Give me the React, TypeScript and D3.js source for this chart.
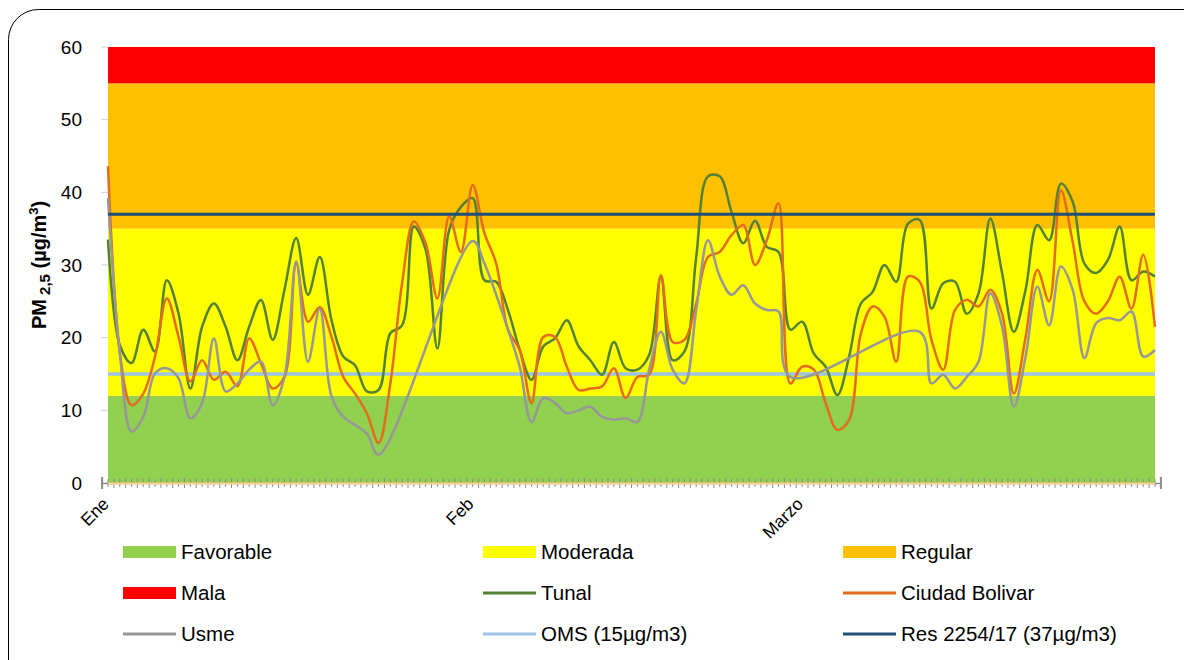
import * as d3 from 'd3';

const width = 1184;
const height = 660;

// days Jan 1 .. Mar 31
const monthLabels = ['Ene', 'Feb', 'Marzo'];
const monthStarts = [0, 31, 59];
const yTicks = [0, 10, 20, 30, 40, 50, 60];

const tunal = [
  33.5, 19, 16.5, 21.1, 18.1, 27.9, 23.3, 13.0, 21.5, 24.7,
  21.5, 16.9, 21.5, 25.2, 19.7, 26.6, 33.7, 25.9, 31.1, 22.4,
  17.4, 16.2, 12.6, 12.8, 20.6, 21.7, 35.3, 32.1, 18.5, 34.8,
  38.0, 39.2, 27.9, 27.7, 23.8, 18.3, 14.2, 18.8, 19.9, 22.4,
  18.8, 16.9, 14.9, 19.4, 15.8, 15.6, 17.6, 28.4, 16.9, 18.1,
  31.1, 42.2, 42.2, 37.3, 33.0, 36.1, 32.5, 31.8, 21.1, 22.2,
  17.8, 16.0, 12.1, 17.4, 24.7, 26.3, 30.0, 27.7, 35.7, 36.2,
  24.0, 27.5, 27.7, 23.3, 26.1, 36.4, 28.9, 20.8, 26.6, 35.5,
  33.4, 41.2, 38.7, 30.2, 28.9, 30.7, 35.3, 27.9, 29.1, 28.4,
];

const ciudadBolivar = [
  43.6, 18, 10.7, 12.3, 17.4, 25.4, 20.1, 14.0, 16.9, 14.2,
  15.3, 13.3, 19.9, 16.5, 13.0, 14.6, 30.2, 22.2, 24.2, 20.1,
  14.6, 12.3, 9.6, 5.5, 13.7, 27.5, 36.0, 33.0, 25.4, 36.7,
  31.8, 41.0, 34.4, 30.2, 21.1, 18.3, 11.0, 20.1, 20.1, 16.0,
  12.8, 13.0, 13.3, 15.8, 11.7, 14.6, 14.9, 28.6, 19.4, 19.7,
  24.7, 31.1, 31.8, 34.1, 35.5, 30.0, 33.4, 38.5, 13.7, 16.0,
  15.6, 11.0, 7.3, 8.7, 20.6, 24.3, 22.9, 16.7, 28.4, 27.7,
  19.7, 15.6, 23.8, 25.2, 24.3, 26.6, 23.3, 12.3, 20.1, 29.3,
  25.0, 40.3, 33.2, 25.0, 23.3, 25.0, 28.4, 24.0, 31.4, 21.5,
];

const usme: (number | null)[] = [
  39.2, 18, 7.1, 9.1, 15.1, 15.8, 14.4, 8.9, 11.0, 19.9,
  12.6, 13.7, 15.6, 16.7, 10.7, 14.6, 30.5, 16.7, 24.0, 11.9,
  9.1, 8.0, 6.8, 3.9, null, null, null, null, null, null,
  null, 33.3, 30.2, 25.9, 21.1, 16.0, 8.4, 11.7, 11.0, 9.6,
  10.0, 10.5, 9.1, 8.7, 8.9, 8.4, 15.6, 20.8, 15.6, 13.7,
  23.8, 33.4, 28.4, 25.9, 27.2, 24.7, 23.8, 23.6, 14.6, null,
  null, null, null, null, null, null, null, null, null, 20.8,
  13.7, 14.9, 13.0, 14.6, 16.7, 26.1, 21.5, 10.5, 17.4, 27.0,
  21.7, 29.8, 26.6, 17.2, 22.0, 22.7, 22.4, 23.6, 17.4, 18.3,
];

const bandNames = ['Favorable', 'Moderada', 'Regular', 'Mala'];
const bandLimits = [0, 12, 35, 55, 60];
const bandColors = ['#92D050', '#FFFF00', '#FFC000', '#FF0000'];

const omsValue = 15;
const resValue = 37;

const seriesNames = ['Tunal', 'Ciudad Bolivar', 'Usme'];
const seriesColors = ['#548235', '#E46C1E', '#979797'];
const seriesData = [tunal, ciudadBolivar, usme];

const legendItems = [
  { name: bandNames[0], color: bandColors[0], kind: 'box' },
  { name: bandNames[1], color: bandColors[1], kind: 'box' },
  { name: bandNames[2], color: bandColors[2], kind: 'box' },
  { name: bandNames[3], color: bandColors[3], kind: 'box' },
  { name: seriesNames[0], color: seriesColors[0], kind: 'line' },
  { name: seriesNames[1], color: seriesColors[1], kind: 'line' },
  { name: seriesNames[2], color: seriesColors[2], kind: 'line' },
  { name: 'OMS (15µg/m3)', color: '#9DC3E6', kind: 'line' },
  { name: 'Res 2254/17 (37µg/m3)', color: '#1F4E79', kind: 'line' },
];

export default function App() {
  const n = tunal.length;
  const x = d3.scaleLinear([0, n - 1], [108, 1155]);
  const y = d3.scaleLinear([0, 60], [483, 47]);

  const line = d3
    .line<[number, number]>()
    .x((d) => x(d[0]))
    .y((d) => y(d[1]))
    .curve(d3.curveCatmullRom.alpha(0.5));

  // missing days are skipped, the curve just joins the neighbours
  const pts = (arr: (number | null)[]) =>
    arr
      .map((v, i) => [i, v] as [number, number | null])
      .filter((d) => d[1] != null) as [number, number][];

  const halfTicks = d3.range(-0.5, n - 0.5 + 0.01, 0.5);
  const font = 'Liberation Sans, Arial, sans-serif';

  return (
    <svg
      width={width}
      height={height}
      style={{ position: 'absolute', left: 0, top: 0 }}
      fontFamily={font}
    >
      <rect width={width} height={height} fill="white" />
      <rect
        x={8.5}
        y={9.5}
        width={1250}
        height={700}
        rx={30}
        fill="white"
        stroke="#000"
        strokeWidth={1}
      />

      {/* bands */}
      {bandColors.map((c, i) => (
        <rect
          key={i}
          x={x(0)}
          width={x(n - 1) - x(0)}
          y={y(bandLimits[i + 1])}
          height={y(bandLimits[i]) - y(bandLimits[i + 1])}
          fill={c}
        />
      ))}

      {/* y ticks */}
      {yTicks.map((t) => (
        <g key={t}>
          <line x1={101} x2={108} y1={y(t)} y2={y(t)} stroke="#d0d0d0" />
          <text
            x={82}
            y={y(t)}
            dy="0.35em"
            textAnchor="end"
            fontSize={19}
            fill="#000"
          >
            {t}
          </text>
        </g>
      ))}

      {/* x axis */}
      <line
        x1={x(-0.5)}
        x2={x(n - 0.5)}
        y1={y(0) + 0.5}
        y2={y(0) + 0.5}
        stroke="#8c8c8c"
        strokeWidth={1.5}
      />
      {halfTicks.map((t, i) => (
        <line
          key={i}
          x1={x(t)}
          x2={x(t)}
          y1={y(0) - (i % 2 === 0 ? 5 : 4)}
          y2={y(0) + (i % 2 === 0 ? 5 : 4)}
          stroke="#8c8c8c"
          strokeWidth={1}
        />
      ))}
      <line
        x1={x(-0.5)}
        x2={x(-0.5)}
        y1={y(0) - 6}
        y2={y(0) + 6}
        stroke="#8c8c8c"
        strokeWidth={2}
      />
      <line
        x1={x(n - 0.5)}
        x2={x(n - 0.5)}
        y1={y(0) - 6}
        y2={y(0) + 6}
        stroke="#8c8c8c"
        strokeWidth={2}
      />
      <line
        x1={x(0)}
        x2={x(n - 1)}
        y1={y(0) + 0.5}
        y2={y(0) + 0.5}
        stroke="#FAD38E"
        strokeWidth={2}
      />

      {monthLabels.map((m, i) => (
        <text
          key={m}
          transform={`translate(${x(monthStarts[i]) + 2},${y(0) + 22}) rotate(-45)`}
          textAnchor="end"
          fontSize={17.5}
          fill="#000"
        >
          {m}
        </text>
      ))}

      {/* reference lines */}
      <line
        x1={x(0)}
        x2={x(n - 1)}
        y1={y(omsValue)}
        y2={y(omsValue)}
        stroke="#9DC3E6"
        strokeWidth={3.5}
      />

      {/* series */}
      {seriesData.map((s, i) => (
        <path
          key={i}
          d={line(pts(s)) ?? ''}
          fill="none"
          stroke={seriesColors[i]}
          strokeWidth={2.5}
          strokeLinejoin="round"
        />
      ))}

      <line
        x1={x(0)}
        x2={x(n - 1)}
        y1={y(resValue)}
        y2={y(resValue)}
        stroke="#1F4E79"
        strokeWidth={3}
      />

      {/* y title */}
      <text
        transform="translate(46,265) rotate(-90)"
        textAnchor="middle"
        fontSize={20}
        fontWeight="bold"
        fill="#000"
      >
        PM
        <tspan fontSize={15} dy={4}>
          {' '}2,5
        </tspan>
        <tspan dy={-4}> (µg/m</tspan>
        <tspan fontSize={13} dy={-8}>
          3
        </tspan>
        <tspan dy={8}>)</tspan>
      </text>

      {/* legend */}
      {legendItems.map((it, i) => {
        const col = i % 3;
        const row = Math.floor(i / 3);
        const lx = [123, 483, 843][col];
        const ly = 552 + row * 41;
        return (
          <g key={it.name}>
            {it.kind === 'box' ? (
              <rect x={lx} y={ly - 6} width={53} height={12} fill={it.color} />
            ) : (
              <line
                x1={lx}
                x2={lx + 53}
                y1={ly}
                y2={ly}
                stroke={it.color}
                strokeWidth={3}
              />
            )}
            <text x={lx + 58} y={ly} dy="0.35em" fontSize={20.5} fill="#000">
              {it.name}
            </text>
          </g>
        );
      })}
    </svg>
  );
}
